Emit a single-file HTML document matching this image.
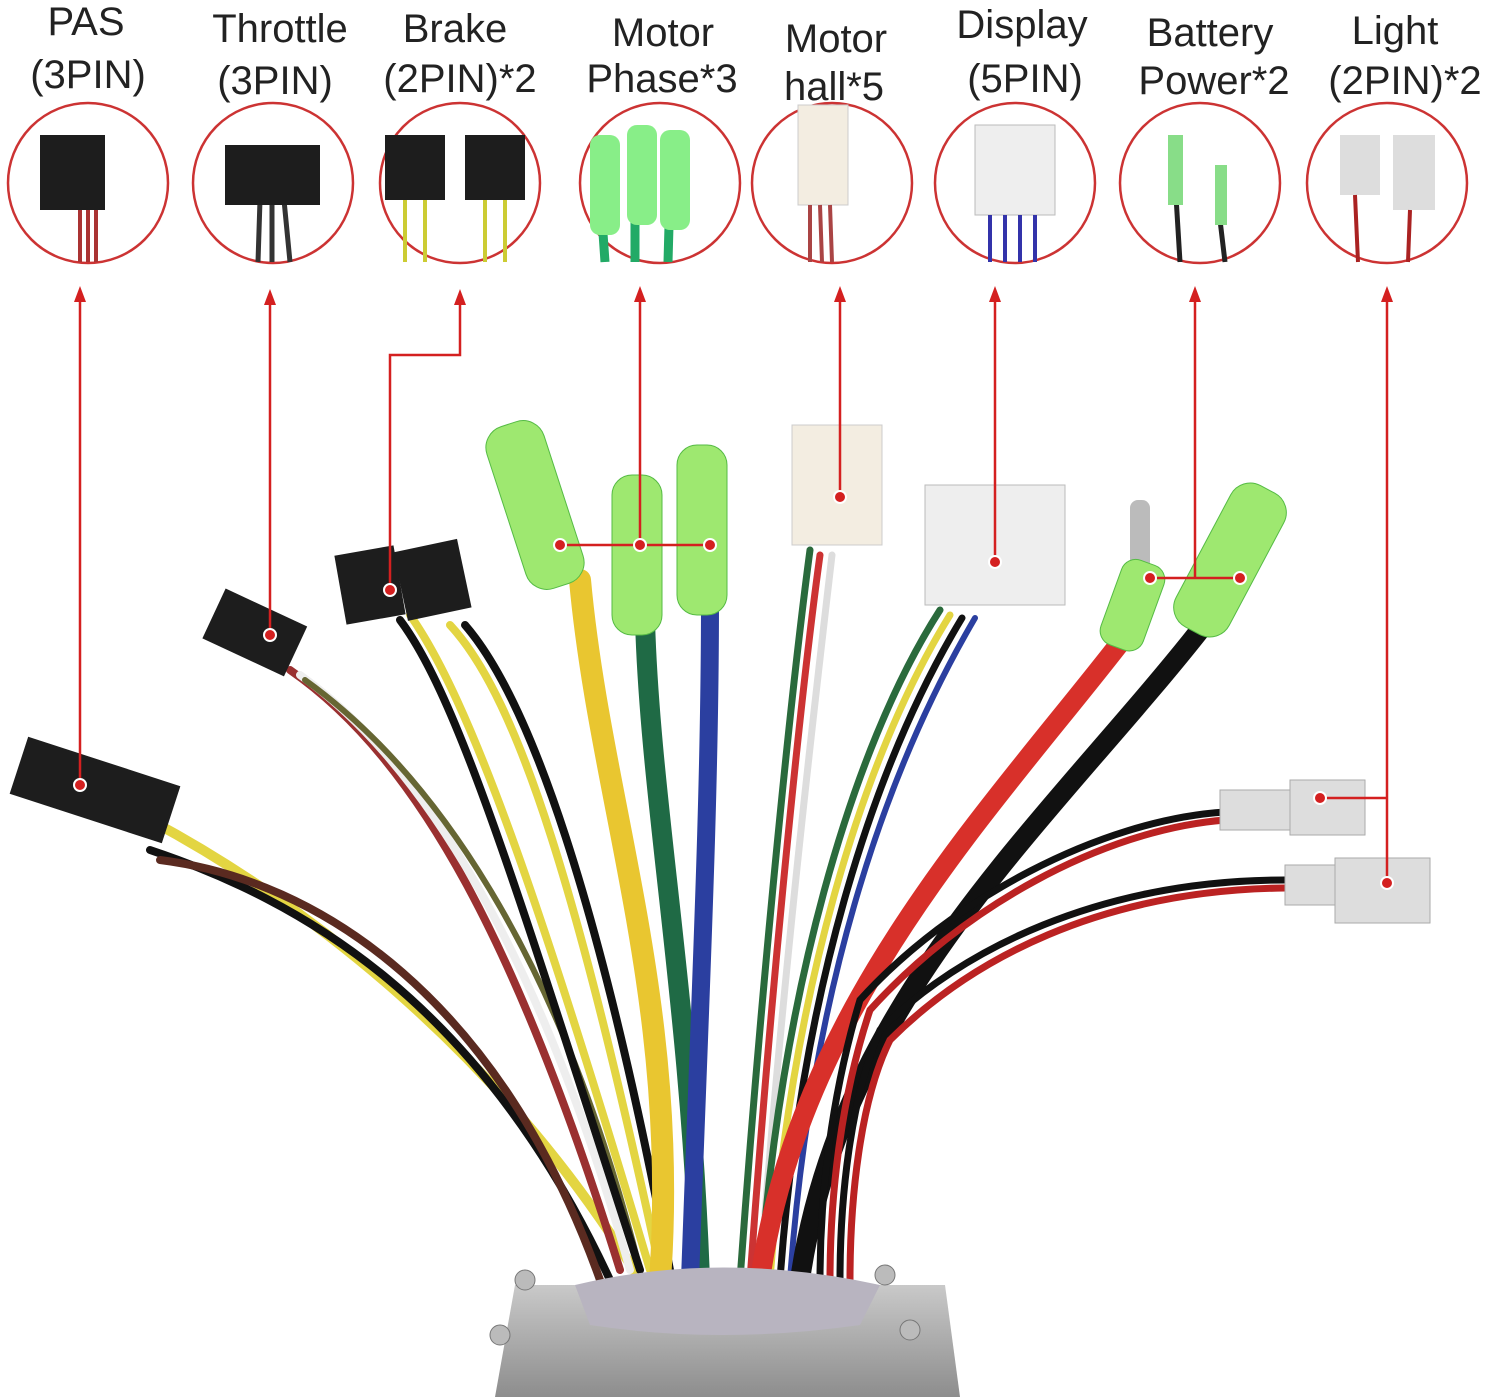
<!DOCTYPE html>
<html><head><meta charset="utf-8"><style>
html,body{margin:0;padding:0;background:#fff;}
svg{display:block}
text{font-family:"Liberation Sans",sans-serif;font-size:40px;fill:#222;text-anchor:middle}
</style></head><body>
<svg width="1494" height="1397" viewBox="0 0 1494 1397" xmlns="http://www.w3.org/2000/svg">
<defs>
<linearGradient id="box" x1="0" x2="0" y1="0" y2="1"><stop offset="0" stop-color="#c9c9c9"/><stop offset="1" stop-color="#8d8d8d"/></linearGradient>
</defs>
<text x="86" y="35">PAS</text><text x="88" y="88">(3PIN)</text>
<text x="280" y="42">Throttle</text><text x="275" y="94">(3PIN)</text>
<text x="455" y="42">Brake</text><text x="460" y="92">(2PIN)*2</text>
<text x="663" y="46">Motor</text><text x="662" y="92">Phase*3</text>
<text x="836" y="52">Motor</text><text x="834" y="100">hall*5</text>
<text x="1022" y="38">Display</text><text x="1025" y="92">(5PIN)</text>
<text x="1210" y="46">Battery</text><text x="1214" y="94">Power*2</text>
<text x="1395" y="44">Light</text><text x="1405" y="94">(2PIN)*2</text>
<g fill="#fff" stroke="#c33" stroke-width="2.5">
<circle cx="88" cy="183" r="80"/><circle cx="273" cy="183" r="80"/><circle cx="460" cy="183" r="80"/><circle cx="660" cy="183" r="80"/><circle cx="832" cy="183" r="80"/><circle cx="1015" cy="183" r="80"/><circle cx="1200" cy="183" r="80"/><circle cx="1387" cy="183" r="80"/>
</g>
<g>
<path d="M80,200 L80,262 M88,200 L88,262 M96,200 L96,262" stroke="#a33" stroke-width="4"/>
<rect x="40" y="135" width="65" height="75" fill="#1d1d1d"/>
<path d="M260,200 L258,262 M272,200 L272,262 M284,200 L290,262" stroke="#333" stroke-width="5"/>
<rect x="225" y="145" width="95" height="60" fill="#1d1d1d"/>
<rect x="385" y="135" width="60" height="65" fill="#1d1d1d"/><rect x="465" y="135" width="60" height="65" fill="#1d1d1d"/>
<path d="M405,200 L405,262 M425,200 L425,262 M485,200 L485,262 M505,200 L505,262" stroke="#cc3" stroke-width="4"/>
<path d="M600,190 L605,262 M635,190 L635,262 M670,190 L668,262" stroke="#2a6" stroke-width="9"/>
<rect x="590" y="135" width="30" height="100" rx="10" fill="#8e8"/><rect x="627" y="125" width="30" height="100" rx="10" fill="#8e8"/><rect x="660" y="130" width="30" height="100" rx="10" fill="#8e8"/>
<rect x="798" y="105" width="50" height="100" fill="#f3ede1" stroke="#ccc"/>
<path d="M810,205 L810,262 M820,205 L822,262 M830,205 L832,262" stroke="#a44" stroke-width="4"/>
<rect x="975" y="125" width="80" height="90" fill="#eee" stroke="#bbb"/>
<path d="M990,215 L990,262 M1005,215 L1005,262 M1020,215 L1020,262 M1035,215 L1035,262" stroke="#33a" stroke-width="4"/>
<path d="M1175,180 L1180,262 M1220,220 L1225,262" stroke="#222" stroke-width="5"/>
<rect x="1168" y="135" width="15" height="70" fill="#8d8"/><rect x="1215" y="165" width="12" height="60" fill="#8d8"/>
<rect x="1340" y="135" width="40" height="60" fill="#ddd"/><rect x="1393" y="135" width="42" height="75" fill="#ddd"/>
<path d="M1355,195 L1358,262 M1410,210 L1408,262" stroke="#a22" stroke-width="4"/>
</g>
<g fill="none" stroke-linecap="round">
<path d="M150,820 C300,900 500,1050 640,1280" stroke="#e3d542" stroke-width="10"/>
<path d="M150,850 C300,900 480,1000 610,1280" stroke="#111" stroke-width="8"/>
<path d="M160,860 C320,880 500,1000 600,1280" stroke="#5a2a20" stroke-width="8"/>
<path d="M290,670 C420,760 520,950 620,1270" stroke="#9a3030" stroke-width="8"/>
<path d="M300,675 C420,760 540,950 630,1270" stroke="#eee" stroke-width="8"/>
<path d="M305,680 C430,770 560,950 640,1270" stroke="#663" stroke-width="6"/>
<path d="M400,620 C460,700 520,900 640,1270" stroke="#111" stroke-width="8"/>
<path d="M410,615 C470,700 540,900 650,1270" stroke="#e3d542" stroke-width="8"/>
<path d="M450,625 C520,700 580,900 660,1270" stroke="#e3d542" stroke-width="8"/>
<path d="M465,625 C530,700 600,900 670,1270" stroke="#111" stroke-width="8"/>
<path d="M580,580 C600,800 680,1000 660,1280" stroke="#e9c630" stroke-width="22"/>
<path d="M645,620 C650,800 690,1000 700,1280" stroke="#1f6a45" stroke-width="20"/>
<path d="M710,600 C710,800 700,1000 690,1280" stroke="#2b3fa0" stroke-width="18"/>
<path d="M810,550 C790,700 760,1000 740,1280" stroke="#2a6a3c" stroke-width="7"/>
<path d="M820,555 C800,700 770,1000 750,1280" stroke="#c33" stroke-width="7"/>
<path d="M832,555 C815,700 780,1000 760,1280" stroke="#ddd" stroke-width="7"/>
<path d="M940,610 C850,750 780,1000 760,1280" stroke="#2a6a3c" stroke-width="7"/>
<path d="M950,615 C860,760 790,1000 770,1280" stroke="#e3d542" stroke-width="7"/>
<path d="M962,618 C870,770 800,1000 780,1280" stroke="#111" stroke-width="7"/>
<path d="M975,618 C880,780 810,1000 790,1280" stroke="#2b3fa0" stroke-width="6"/>
<path d="M1130,630 C1000,800 800,1000 760,1280" stroke="#d8302a" stroke-width="20"/>
<path d="M1200,630 C1050,820 840,1000 800,1280" stroke="#111" stroke-width="20"/>
<path d="M1225,812 C1100,820 950,900 860,1000 C830,1100 820,1200 820,1280" stroke="#111" stroke-width="7"/>
<path d="M1225,820 C1100,830 960,910 870,1010 C840,1100 830,1200 830,1280" stroke="#b22" stroke-width="7"/>
<path d="M1285,880 C1100,880 960,950 880,1030 C850,1100 840,1200 840,1280" stroke="#111" stroke-width="7"/>
<path d="M1285,888 C1100,890 970,960 890,1040 C860,1100 850,1200 850,1280" stroke="#b22" stroke-width="7"/>
</g>
<g>
<rect x="15" y="760" width="160" height="60" fill="#1d1d1d" transform="rotate(18 95 790)"/>
<rect x="210" y="605" width="90" height="55" fill="#1d1d1d" transform="rotate(25 255 632)"/>
<rect x="340" y="550" width="60" height="70" fill="#1d1d1d" transform="rotate(-10 370 585)"/>
<rect x="400" y="545" width="65" height="70" fill="#1d1d1d" transform="rotate(-12 432 580)"/>
<rect x="505" y="420" width="60" height="170" rx="22" fill="#9ee870" stroke="#5b4" transform="rotate(-18 535 505)"/>
<rect x="612" y="475" width="50" height="160" rx="20" fill="#9ee870" stroke="#5b4"/>
<rect x="677" y="445" width="50" height="170" rx="20" fill="#9ee870" stroke="#5b4"/>
<rect x="792" y="425" width="90" height="120" fill="#f3ede1" stroke="#ccc"/>
<rect x="925" y="485" width="140" height="120" fill="#eee" stroke="#bbb"/>
<rect x="1130" y="500" width="20" height="70" rx="8" fill="#bbb"/>
<rect x="1110" y="560" width="45" height="90" rx="15" fill="#9ee870" stroke="#5b4" transform="rotate(20 1132 605)"/>
<rect x="1200" y="480" width="60" height="160" rx="22" fill="#9ee870" stroke="#5b4" transform="rotate(28 1230 560)"/>
<rect x="1220" y="790" width="80" height="40" fill="#ddd" stroke="#aaa"/><rect x="1290" y="780" width="75" height="55" fill="#ddd" stroke="#aaa"/>
<rect x="1285" y="865" width="60" height="40" fill="#ddd" stroke="#aaa"/><rect x="1335" y="858" width="95" height="65" fill="#ddd" stroke="#aaa"/>
</g>
<path d="M515,1285 L945,1285 L960,1397 L495,1397z" fill="url(#box)"/>
<path d="M575,1285 Q720,1250 880,1285 L860,1325 Q720,1345 590,1325z" fill="#b8b4c0"/>
<circle cx="525" cy="1280" r="10" fill="#bbb" stroke="#777"/><circle cx="885" cy="1275" r="10" fill="#bbb" stroke="#777"/>
<circle cx="500" cy="1335" r="10" fill="#bbb" stroke="#777"/><circle cx="910" cy="1330" r="10" fill="#bbb" stroke="#777"/>
<g fill="none" stroke="#d42020" stroke-width="2.5">
<path d="M80,295 L80,785"/>
<path d="M270,298 L270,635"/>
<path d="M460,298 L460,355 L390,355 L390,590"/>
<path d="M640,295 L640,545"/><path d="M560,545 L710,545"/>
<path d="M840,295 L840,497"/>
<path d="M995,295 L995,562"/>
<path d="M1195,295 L1195,578"/><path d="M1150,578 L1240,578"/>
<path d="M1387,295 L1387,883"/><path d="M1320,798 L1387,798"/>
</g>
<g fill="#d42020">
<polygon points="74,302 80,286 86,302"/><polygon points="264,305 270,289 276,305"/><polygon points="454,305 460,289 466,305"/>
<polygon points="634,302 640,286 646,302"/><polygon points="834,302 840,286 846,302"/><polygon points="989,302 995,286 1001,302"/>
<polygon points="1189,302 1195,286 1201,302"/><polygon points="1381,302 1387,286 1393,302"/>
</g>
<g fill="#d42020" stroke="#fff" stroke-width="2">
<circle cx="80" cy="785" r="6"/><circle cx="270" cy="635" r="6"/><circle cx="390" cy="590" r="6"/>
<circle cx="560" cy="545" r="6"/><circle cx="640" cy="545" r="6"/><circle cx="710" cy="545" r="6"/>
<circle cx="840" cy="497" r="6"/><circle cx="995" cy="562" r="6"/>
<circle cx="1150" cy="578" r="6"/><circle cx="1240" cy="578" r="6"/>
<circle cx="1320" cy="798" r="6"/><circle cx="1387" cy="883" r="6"/>
</g>
</svg>
</body></html>
